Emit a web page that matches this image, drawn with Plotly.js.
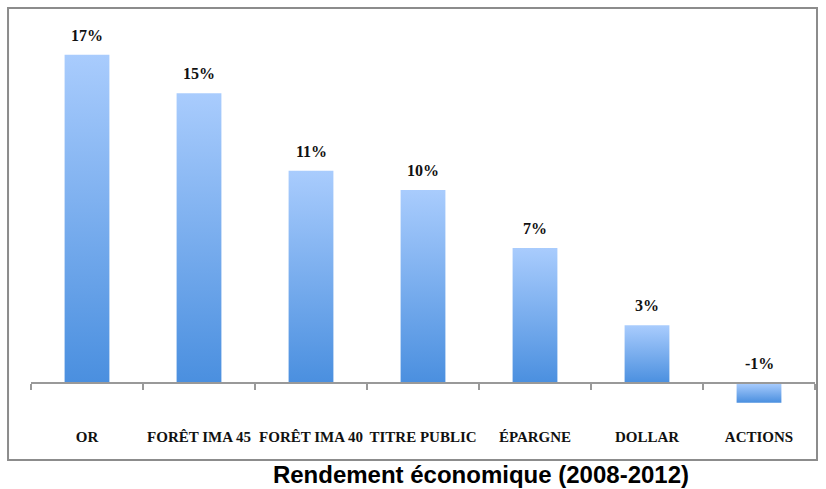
<!DOCTYPE html>
<html>
<head>
<meta charset="utf-8">
<script src="https://cdn.plot.ly/plotly-3.0.1.min.js"></script>
<style>
html,body{margin:0;padding:0;background:#fff;}
#chart{width:826px;height:489px;}
</style>
</head>
<body>
<div id="chart"></div>
<script>
const categories = ["OR", "FORÊT IMA 45", "FORÊT IMA 40", "TITRE PUBLIC", "ÉPARGNE", "DOLLAR", "ACTIONS"];
const values = [17, 15, 11, 10, 7, 3, -1];
const valueLabels = ["17%", "15%", "11%", "10%", "7%", "3%", "-1%"];
const chartTitle = "Rendement économique (2008-2012)";

const serif = "Liberation Serif, Times New Roman, serif";
const yMin = -2, yMax = 17.5;

const trace = {
  type: "bar",
  x: categories,
  y: values,
  width: 0.4,
  marker: {color: "#74a9ee", line: {width: 0}},
  hoverinfo: "none"
};

const annotations = categories.map((c, i) => ({
  x: c,
  y: Math.max(values[i], 0),
  xref: "x",
  yref: "y",
  text: "<b>" + valueLabels[i] + "</b>",
  showarrow: false,
  yanchor: "bottom",
  yshift: 9,
  font: {family: serif, size: 16, color: "#111"}
}));

const layout = {
  width: 826,
  height: 489,
  margin: {l: 31, r: 11, t: 45, b: 67},
  paper_bgcolor: "#fff",
  plot_bgcolor: "#fff",
  showlegend: false,
  title: {
    text: "<b>" + chartTitle + "</b>",
    font: {family: "Liberation Sans, Arial, sans-serif", size: 24, color: "#000"},
    x: 0.5823,
    xanchor: "center",
    xref: "container",
    y: 0.0286,
    yanchor: "middle",
    yref: "container"
  },
  xaxis: {
    type: "category",
    anchor: "free",
    position: (0 - yMin) / (yMax - yMin),
    showline: true,
    linecolor: "#999",
    linewidth: 2,
    ticks: "outside",
    tickson: "boundaries",
    ticklen: 6,
    tickwidth: 1.5,
    tickcolor: "#999",
    tickangle: 0,
    ticklabelstandoff: 40,
    tickfont: {family: serif, size: 15, color: "#111"},
    tickprefix: "<b>",
    ticksuffix: "</b>",
    showgrid: false,
    zeroline: false,
    fixedrange: true
  },
  yaxis: {
    visible: false,
    range: [yMin, yMax],
    showgrid: false,
    zeroline: false,
    fixedrange: true
  },
  annotations: annotations,
  shapes: [{
    type: "rect",
    xref: "paper", yref: "paper",
    x0: -0.0293, x1: 1.00255,
    y0: -0.1008, y1: 1.0981,
    line: {color: "#8c8c8c", width: 2},
    fillcolor: "rgba(0,0,0,0)",
    layer: "below"
  }]
};

Plotly.newPlot("chart", [trace], layout, {displayModeBar: false, staticPlot: true}).then(gd => {
  const svg = gd.querySelector("svg.main-svg");
  const ns = "http://www.w3.org/2000/svg";
  let defs = svg.querySelector("defs");
  if (!defs) { defs = document.createElementNS(ns, "defs"); svg.insertBefore(defs, svg.firstChild); }
  const grad = document.createElementNS(ns, "linearGradient");
  grad.setAttribute("id", "barGrad");
  grad.setAttribute("x1", "0"); grad.setAttribute("y1", "0");
  grad.setAttribute("x2", "0"); grad.setAttribute("y2", "1");
  [["0", "#a9ccfd"], ["1", "#4a8fdf"]].forEach(([o, c]) => {
    const s = document.createElementNS(ns, "stop");
    s.setAttribute("offset", o); s.setAttribute("stop-color", c);
    grad.appendChild(s);
  });
  defs.appendChild(grad);
  gd.querySelectorAll(".trace.bars .point path").forEach(p => {
    p.style.fill = "url(#barGrad)";
  });
});
</script>
</body>
</html>
